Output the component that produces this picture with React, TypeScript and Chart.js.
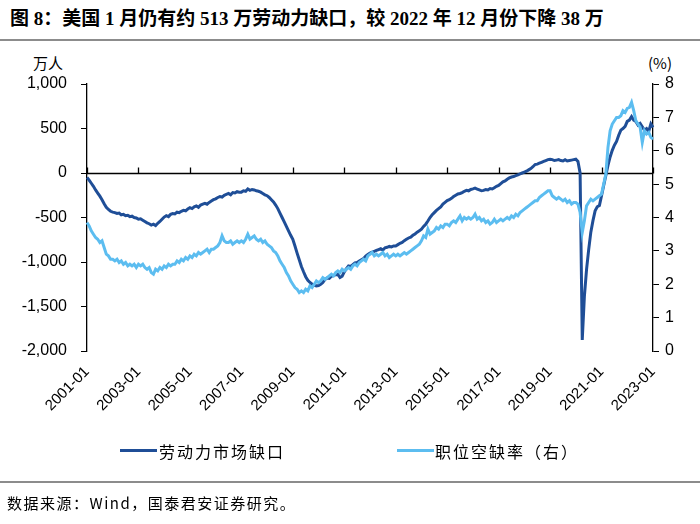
import React, { useEffect, useRef } from "react";
import { Chart, registerables } from "chart.js";

Chart.register(...registerables);

const START_YEAR = 2001;
const END_YEAR = 2023;
const months: string[] = [];
for (let y = START_YEAR; y <= END_YEAR; y++) {
  for (let m = 1; m <= 12; m++) {
    if (y === END_YEAR && m > 1) break;
    months.push(`${y}-${m < 10 ? "0" + m : m}`);
  }
}

// 劳动力市场缺口 (万人), monthly 2001-01 .. 2023-01
const laborGap: number[] = [
  -50, -80, -115, -150, -190, -225, -260, -300, -345, -385, -410, -430,
  -440, -445, -455, -450, -470, -465, -480, -475, -490, -485, -500, -505,
  -520, -515, -530, -545, -560, -570, -585, -575, -590, -565, -545, -520,
  -495, -480, -490, -465, -455, -460, -440, -445, -430, -420, -425, -405,
  -390, -400, -380, -370, -385, -360, -350, -340, -350, -330, -315, -300,
  -290, -275, -265, -270, -250, -240, -230, -245, -220, -225, -210, -215,
  -215, -200, -205, -180, -195, -185, -190, -200, -205, -215, -230, -245,
  -255, -275, -300, -325, -360, -400, -450, -500, -550, -600, -650, -700,
  -745, -820, -900, -975, -1050, -1110, -1165, -1205, -1230, -1250, -1262, -1268,
  -1265, -1250, -1230, -1195, -1180, -1185, -1160, -1150, -1145, -1140, -1175, -1160,
  -1110, -1075, -1045, -1050, -1030, -1010, -1005, -990, -975, -960, -935, -915,
  -900, -890, -880, -870, -860, -850, -865, -840, -835, -825, -830, -820,
  -820, -805, -790, -780, -760, -745, -730, -720, -700, -685, -665, -650,
  -630, -600, -575, -540, -500, -470, -445, -420, -400, -380, -350, -330,
  -310, -300, -285, -265, -250, -235, -230, -220, -205, -195, -200, -185,
  -178, -170, -180, -190, -200, -195, -185, -190, -175, -180, -165, -150,
  -140, -120, -100, -90, -70, -55, -45, -40, -30, -20, -10, 0,
  10, 20, 35, 50, 70, 95, 100, 110, 120, 130, 140, 150,
  155, 150, 140, 145, 150, 140, 135, 150, 135, 140, 145, 150,
  155, 130, 0, -1875, -1385, -1085, -860, -665, -535, -425, -380, -365,
  -255, -140, -27, 86, 180, 255, 312, 354, 425, 482, 500, 523,
  580, 595, 634, 595, 580, 540, 558, 520, 482, 500, 467, 551,
  513,
];

// 职位空缺率 (%), monthly 2001-01 .. 2023-01
const vacancyRate: number[] = [
  3.85, 3.75, 3.6, 3.5, 3.4, 3.35, 3.25, 3.3, 3.1, 2.9, 2.85, 2.75,
  2.75, 2.7, 2.75, 2.65, 2.7, 2.6, 2.65, 2.55, 2.6, 2.55, 2.6, 2.5,
  2.6, 2.55, 2.6, 2.5, 2.45, 2.5, 2.35, 2.3, 2.45, 2.4, 2.5, 2.45,
  2.55, 2.5, 2.6, 2.55, 2.6, 2.6, 2.7, 2.65, 2.75, 2.7, 2.8, 2.75,
  2.85, 2.8, 2.9, 2.85, 2.95, 2.9, 2.95, 3.0, 3.05, 2.95, 3.05, 3.05,
  3.1, 3.15, 3.25, 3.45, 3.3, 3.25, 3.25, 3.3, 3.2, 3.25, 3.3, 3.25,
  3.3, 3.25, 3.35, 3.5, 3.35, 3.4, 3.45, 3.35, 3.3, 3.35, 3.25, 3.3,
  3.2, 3.15, 3.1, 3.0, 2.95, 2.85, 2.7, 2.6, 2.5, 2.35, 2.25, 2.1,
  2.0, 1.9, 1.85, 1.75, 1.8, 1.75, 1.85, 1.8, 1.95, 1.9, 2.0, 2.1,
  2.05, 2.1, 2.2, 2.15, 2.2, 2.25, 2.3, 2.25, 2.35, 2.4, 2.35, 2.45,
  2.4, 2.45, 2.5, 2.45, 2.55, 2.6, 2.55, 2.65, 2.7, 2.75, 2.7, 2.85,
  2.9, 2.95, 2.85, 2.9, 2.85, 2.9, 2.95, 2.85, 2.9, 2.8, 2.85, 2.9,
  2.85, 2.9, 2.85, 2.9, 2.95, 2.9, 2.95, 3.0, 3.05, 3.1, 3.15, 3.2,
  3.3, 3.45, 3.4, 3.65, 3.5, 3.55, 3.6, 3.7, 3.65, 3.75, 3.7, 3.8,
  3.8, 3.75, 3.85, 3.9, 3.85, 3.95, 4.05, 3.9, 4.0, 3.95, 4.0, 3.95,
  4.0, 4.1, 3.95, 4.0, 3.9, 3.95, 3.85, 3.9, 3.8, 3.85, 3.95, 3.85,
  3.9, 3.95, 3.9, 3.95, 4.0, 3.95, 4.05, 4.0, 4.1, 4.05, 4.15, 4.2,
  4.25, 4.3, 4.35, 4.4, 4.45, 4.5, 4.5, 4.6, 4.65, 4.7, 4.75, 4.8,
  4.8, 4.65, 4.6, 4.55, 4.6, 4.55, 4.5, 4.55, 4.45, 4.5, 4.4, 4.45,
  4.45, 4.4, 4.15, 3.55, 3.9, 4.35, 4.45, 4.55, 4.5, 4.55, 4.6, 4.65,
  4.7, 5.0, 5.3, 6.1, 6.6, 6.8, 6.9, 7.0, 7.0, 7.05, 7.2, 7.15,
  7.27, 7.3, 7.45, 7.2, 6.9, 6.8, 6.7, 6.25, 6.6, 6.5, 6.55, 6.4,
  6.35,
];

const leftTicks = { min: -2000, max: 1000, step: 500 };
const rightTicks = { min: 0, max: 8, step: 1 };
const LABEL_EVERY = 24;

const DARK = "#1f4e97";
const LIGHT = "#5cbdf0";

const zeroLinePlugin = {
  id: "zeroLine",
  beforeDatasetsDraw(chart: any) {
    const { ctx, chartArea, scales } = chart;
    const y = Math.round(scales.yL.getPixelForValue(0)) + 0.5;
    ctx.save();
    ctx.strokeStyle = "#000";
    ctx.lineWidth = 1.3;
    ctx.beginPath();
    ctx.moveTo(chartArea.left, y);
    ctx.lineTo(chartArea.right, y);
    for (let i = 0; i < months.length; i += LABEL_EVERY) {
      const x = Math.round(scales.x.getPixelForValue(i)) + 0.5;
      ctx.moveTo(x, y);
      ctx.lineTo(x, y - 6);
    }
    ctx.stroke();
    ctx.restore();
  },
};

export default function App() {
  const ref = useRef<HTMLCanvasElement | null>(null);

  useEffect(() => {
    if (!ref.current) return;
    const chart = new Chart(ref.current, {
      type: "line",
      data: {
        labels: months,
        datasets: [
          {
            label: "职位空缺率（右）",
            data: vacancyRate,
            yAxisID: "yR",
            borderColor: LIGHT,
            borderWidth: 3,
            pointRadius: 0,
            tension: 0,
          },
          {
            label: "劳动力市场缺口",
            data: laborGap,
            yAxisID: "yL",
            borderColor: DARK,
            borderWidth: 3,
            pointRadius: 0,
            tension: 0,
          },
        ],
      },
      options: {
        animation: false,
        responsive: false,
        devicePixelRatio: 1,
        layout: { padding: { top: 84, left: 0, right: 0, bottom: 0 } },
        plugins: { legend: { display: false }, tooltip: { enabled: false } },
        scales: {
          x: {
            type: "category",
            grid: { display: false, drawTicks: false },
            border: { display: false },
            ticks: {
              autoSkip: false,
              maxRotation: 45,
              minRotation: 45,
              padding: 12,
              color: "#000",
              font: { family: "'Liberation Sans', Arial, sans-serif", size: 15 },
              callback: (_v: any, i: number) => (i % LABEL_EVERY === 0 ? months[i] : null),
            },
            afterFit: (s: any) => {
              s.height = 173;
            },
          },
          yL: {
            type: "linear",
            position: "left",
            min: leftTicks.min,
            max: leftTicks.max,
            grid: { drawOnChartArea: false, drawTicks: true, tickLength: 6, color: "#000" },
            border: { display: true, color: "#000", width: 1.3 },
            ticks: {
              stepSize: leftTicks.step,
              padding: 14,
              color: "#000",
              font: { family: "'Liberation Sans', Arial, sans-serif", size: 16 },
              callback: (v: any) => Number(v).toLocaleString("en-US"),
            },
            afterFit: (s: any) => {
              s.width = 87;
            },
          },
          yR: {
            type: "linear",
            position: "right",
            min: rightTicks.min,
            max: rightTicks.max,
            grid: { drawOnChartArea: false, drawTicks: true, tickLength: 6, color: "#000" },
            border: { display: true, color: "#000", width: 1.3 },
            ticks: {
              stepSize: rightTicks.step,
              padding: 6,
              color: "#000",
              font: { family: "'Liberation Sans', Arial, sans-serif", size: 16 },
            },
            afterFit: (s: any) => {
              s.width = 47;
            },
          },
        },
      },
      plugins: [zeroLinePlugin],
    });
    return () => chart.destroy();
  }, []);

  const serifCJK = "'Liberation Serif', 'Times New Roman', 'Noto Sans CJK SC', serif";
  const cjk = "'Noto Sans CJK SC', 'Liberation Serif', serif";

  return (
    <div
      style={{
        position: "fixed",
        left: 0,
        top: 0,
        width: 700,
        height: 524,
        background: "#fff",
        overflow: "hidden",
      }}
    >
      <div
        style={{
          position: "absolute",
          left: 10,
          top: 3,
          fontFamily: serifCJK,
          fontWeight: "bold",
          fontSize: 19,
          whiteSpace: "nowrap",
          color: "#000",
        }}
      >
        图 8：美国 1 月仍有约 513 万劳动力缺口，较 2022 年 12 月份下降 38 万
      </div>
      <div style={{ position: "absolute", left: 0, top: 39, width: 700, height: 2, background: "#8c8c8c" }} />
      <div
        style={{ position: "absolute", left: 33, top: 52, fontFamily: cjk, fontSize: 15, color: "#000" }}
      >
        万人
      </div>
      <div
        style={{ position: "absolute", left: 648, top: 52, fontFamily: cjk, fontSize: 15, color: "#000" }}
      >
        (%)
      </div>
      <canvas ref={ref} width={700} height={524} style={{ position: "absolute", left: 0, top: 0 }} />
      <div style={{ position: "absolute", left: 120, top: 449, width: 37, height: 3, background: DARK }} />
      <div
        style={{
          position: "absolute",
          left: 159,
          top: 439,
          fontFamily: cjk,
          fontSize: 16,
          letterSpacing: 2,
          whiteSpace: "nowrap",
          color: "#000",
        }}
      >
        劳动力市场缺口
      </div>
      <div style={{ position: "absolute", left: 397, top: 449, width: 37, height: 3, background: LIGHT }} />
      <div
        style={{
          position: "absolute",
          left: 435,
          top: 439,
          fontFamily: cjk,
          fontSize: 16,
          letterSpacing: 2,
          whiteSpace: "nowrap",
          color: "#000",
        }}
      >
        职位空缺率（右）
      </div>
      <div style={{ position: "absolute", left: 0, top: 481, width: 700, height: 2, background: "#8c8c8c" }} />
      <div
        style={{
          position: "absolute",
          left: 7,
          top: 492,
          fontFamily: cjk,
          fontSize: 15,
          letterSpacing: 1.5,
          whiteSpace: "nowrap",
          color: "#000",
        }}
      >
        数据来源：Wind，国泰君安证券研究。
      </div>
    </div>
  );
}
